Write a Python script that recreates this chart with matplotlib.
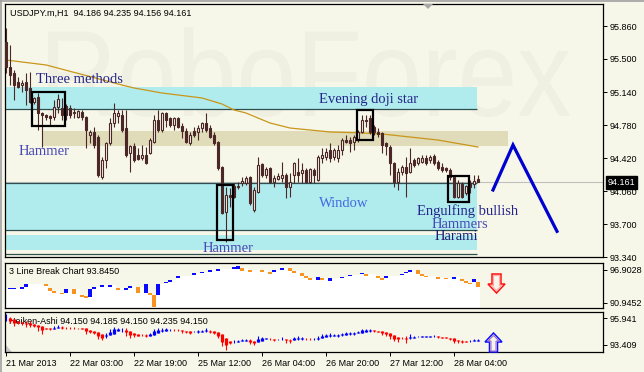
import matplotlib
matplotlib.use('Agg')
import matplotlib.pyplot as plt
import numpy as np
from matplotlib.patches import Rectangle, Polygon, PathPatch
from matplotlib.textpath import TextPath
from matplotlib.font_manager import FontProperties
from matplotlib.transforms import Affine2D
from matplotlib.lines import Line2D

# USDJPY H1 candles, one per hour from 21 Mar 2013
opens = [95.685, 95.413, 95.347, 95.249, 95.216, 95.249, 95.184, 95.031, 95.085, 94.911,
         94.889, 94.878, 94.867, 94.976, 94.965, 94.987, 94.965, 94.922, 94.867, 94.922,
         94.867, 94.671, 94.704, 94.649, 94.213, 94.398, 94.584, 94.802, 94.878, 94.889,
         94.747, 94.475, 94.551, 94.453, 94.420, 94.453, 94.475, 94.595, 94.835, 94.725,
         94.911, 94.856, 94.780, 94.856, 94.769, 94.715, 94.584, 94.715, 94.704, 94.747,
         94.802, 94.747, 94.671, 94.595, 94.322, 93.831, 94.016, 94.115, 94.104, 94.147,
         94.147, 94.213, 93.853, 94.049, 94.355, 94.235, 94.311, 94.158, 94.191, 94.202,
         94.235, 94.104, 94.235, 94.267, 94.256, 94.289, 94.158, 94.289, 94.180, 94.420,
         94.431, 94.507, 94.431, 94.420, 94.507, 94.616, 94.616, 94.595, 94.616, 94.704,
         94.835, 94.856, 94.758, 94.704, 94.693, 94.584, 94.540, 94.365, 94.158, 94.267,
         94.322, 94.267, 94.398, 94.365, 94.376, 94.420, 94.398, 94.442, 94.376, 94.322,
         94.311, 94.289, 94.213, 93.995, 94.136, 94.038, 94.147, 94.136, 94.186]
highs = [95.838, 95.653, 95.380, 95.304, 95.271, 95.347, 95.358, 95.090, 95.129, 94.920,
         94.900, 94.889, 95.053, 95.118, 95.075, 95.009, 94.998, 94.965, 94.944, 94.944,
         94.878, 94.725, 94.758, 94.671, 94.431, 94.595, 94.856, 95.020, 94.944, 94.944,
         94.944, 94.562, 94.584, 94.529, 94.562, 94.540, 94.638, 94.889, 94.944, 94.922,
         94.922, 94.867, 94.867, 94.867, 94.802, 94.747, 94.704, 94.758, 94.780, 94.813,
         94.911, 94.780, 94.704, 94.605, 94.333, 94.104, 94.093, 94.147, 94.158, 94.213,
         94.224, 94.224, 94.104, 94.431, 94.365, 94.322, 94.322, 94.235, 94.256, 94.376,
         94.256, 94.256, 94.376, 94.420, 94.365, 94.311, 94.311, 94.311, 94.453, 94.529,
         94.529, 94.584, 94.529, 94.562, 94.638, 94.671, 94.649, 94.671, 94.725, 94.889,
         94.889, 94.889, 94.780, 94.747, 94.704, 94.595, 94.562, 94.376, 94.311, 94.344,
         94.431, 94.529, 94.420, 94.431, 94.453, 94.453, 94.453, 94.464, 94.398, 94.365,
         94.322, 94.311, 94.235, 94.180, 94.158, 94.125, 94.180, 94.235, 94.235]
lows = [95.347, 95.216, 95.053, 95.184, 95.140, 94.998, 95.020, 95.009, 94.725, 94.540,
        94.835, 94.780, 94.835, 94.911, 94.835, 94.835, 94.856, 94.856, 94.856, 94.835,
        94.529, 94.584, 94.529, 94.213, 94.191, 94.311, 94.562, 94.758, 94.802, 94.704,
        94.431, 94.267, 94.376, 94.398, 94.398, 94.355, 94.465, 94.584, 94.704, 94.704,
        94.758, 94.758, 94.725, 94.747, 94.638, 94.584, 94.562, 94.649, 94.616, 94.704,
        94.704, 94.638, 94.562, 94.289, 93.809, 93.504, 93.885, 93.984, 94.082, 94.115,
        94.125, 93.907, 93.831, 94.038, 94.213, 94.202, 94.147, 94.104, 94.180, 94.158,
        93.984, 93.995, 94.147, 94.158, 94.147, 94.147, 94.147, 94.147, 94.169, 94.365,
        94.398, 94.376, 94.398, 94.376, 94.453, 94.584, 94.485, 94.507, 94.595, 94.693,
        94.758, 94.682, 94.671, 94.649, 94.475, 94.453, 94.235, 94.104, 94.071, 94.235,
        93.995, 94.256, 94.322, 94.344, 94.365, 94.344, 94.365, 94.344, 94.289, 94.267,
        94.267, 94.180, 93.984, 93.984, 93.984, 94.016, 94.038, 94.093, 94.156]
closes = [95.413, 95.325, 95.216, 95.195, 95.238, 95.162, 95.031, 95.075, 94.911, 94.889,
          94.867, 94.856, 94.976, 95.064, 94.889, 94.889, 94.889, 94.911, 94.933, 94.867,
          94.725, 94.704, 94.562, 94.235, 94.398, 94.584, 94.802, 94.911, 94.911, 94.725,
          94.453, 94.551, 94.398, 94.409, 94.453, 94.365, 94.616, 94.835, 94.725, 94.911,
          94.835, 94.780, 94.856, 94.758, 94.715, 94.595, 94.671, 94.671, 94.747, 94.802,
          94.725, 94.649, 94.584, 94.311, 93.820, 94.016, 93.995, 93.995, 94.115, 94.169,
          94.202, 93.929, 94.071, 94.344, 94.235, 94.300, 94.158, 94.202, 94.224, 94.235,
          94.104, 94.158, 94.365, 94.235, 94.289, 94.158, 94.300, 94.235, 94.431, 94.453,
          94.485, 94.420, 94.507, 94.507, 94.616, 94.595, 94.584, 94.649, 94.704, 94.835,
          94.824, 94.704, 94.704, 94.682, 94.562, 94.551, 94.365, 94.158, 94.267, 94.322,
          94.256, 94.365, 94.344, 94.420, 94.420, 94.365, 94.431, 94.365, 94.311, 94.289,
          94.289, 94.213, 93.995, 94.147, 93.995, 94.115, 94.104, 94.169, 94.161]

# moving average read at a few bars
ma_bars = [0, 10, 29, 32, 39, 49, 54, 57, 60, 66, 71, 81, 89, 94, 101, 108, 118]
ma_vals = [95.489, 95.435, 95.216, 95.184, 95.129, 95.075, 95.009, 94.944, 94.911,
           94.802, 94.747, 94.704, 94.693, 94.682, 94.649, 94.616, 94.540]

# support / resistance zones (bar from, bar to, low, high)
cyan_zones = [(-0.25, 117.75, 94.955, 95.195),
              (-0.25, 117.75, 93.635, 94.147),
              (-0.25, 117.75, 93.416, 93.580)]
tan_zone = (9.0, 125.5, 94.551, 94.715)
zone_lines = [94.955, 94.147, 93.635, 93.373]

# candle pattern boxes
box_left = [6.5, 52.75, 87.75, 110.5]
box_right = [14.75, 56.75, 91.75, 115.75]
box_low = [94.769, 93.525, 94.616, 93.940]
box_high = [95.140, 94.125, 94.944, 94.224]

labels = ['Three methods', 'Hammer', 'Evening doji star', 'Hammer', 'Window',
          'Engulfing bullish', 'Hammers', 'Harami']
label_bar = [7.5, 3.25, 78.25, 49.25, 78.25, 102.75, 106.5, 107.25]
label_price = [95.271, 94.496, 95.053, 93.438, 93.929, 93.842, 93.695, 93.569]
label_color = ['#24248a', '#4747b5', '#24248a', '#4747b5', '#4169e1',
               '#24248a', '#4747b5', '#1c1c70']

forecast_bars = [121.75, 126.75, 137.75]
forecast_prices = [94.071, 94.562, 93.620]

price_ticks = [95.860, 95.500, 95.140, 94.780, 94.420, 94.060, 93.700, 93.340]
time_ticks = [0, 16, 32, 48, 64, 80, 96, 112]
time_labels = ['21 Mar 2013', '22 Mar 03:00', '22 Mar 19:00', '25 Mar 12:00',
               '26 Mar 04:00', '26 Mar 20:00', '27 Mar 12:00', '28 Mar 04:00']

# 3 line break bricks (bar, top, bottom, 1 = up)
lb_bar = [1, 2, 4, 5, 10, 11, 12, 14, 15, 17, 19, 20, 21, 22, 24, 26, 28, 30, 31, 33,
          35, 36, 37, 38, 40, 41, 43, 47, 49, 51, 53, 57, 58, 59, 61, 64, 66, 67, 69, 71,
          72, 74, 75, 76, 78, 79, 81, 84, 86, 89, 90, 93, 94, 95, 99, 100, 101, 103, 104, 105,
          108, 110, 112, 114, 115, 116, 117, 118]
lb_hi = [93.65, 93.65, 93.83, 94.37, 94.37, 93.65, 93.11, 92.75, 93.47, 93.47, 92.39, 92.21,
         93.47, 93.83, 94.19, 94.19, 93.65, 93.65, 94.01, 93.83, 94.37, 92.75, 92.39, 94.37,
         94.73, 95.10, 95.82, 96.36, 96.54, 96.90, 97.08, 97.44, 97.62, 97.26, 96.90, 96.90,
         96.54, 96.90, 97.26, 97.26, 96.72, 96.36, 95.82, 95.46, 95.64, 95.46, 95.46, 95.64,
         96.00, 96.36, 96.18, 95.82, 95.46, 95.82, 96.18, 96.54, 96.90, 96.90, 96.18, 95.82,
         95.64, 95.46, 95.64, 95.28, 94.91, 94.55, 95.28, 94.73]
lb_lo = [93.47, 93.47, 93.47, 93.83, 94.01, 93.11, 92.75, 92.57, 92.75, 92.57, 92.03, 91.85,
         92.03, 93.47, 93.83, 93.83, 93.29, 93.29, 93.65, 92.75, 92.75, 92.39, 90.22, 92.39,
         94.55, 94.73, 95.46, 96.00, 96.36, 96.54, 96.72, 97.08, 97.08, 96.72, 96.54, 96.54,
         96.18, 96.54, 96.90, 96.72, 96.36, 95.82, 95.46, 95.10, 95.10, 95.10, 94.91, 95.46,
         95.82, 96.18, 95.82, 95.46, 95.10, 95.46, 96.00, 96.36, 96.54, 96.18, 95.82, 95.64,
         95.28, 95.28, 95.28, 94.91, 94.55, 94.37, 94.73, 93.83]
lb_up = [1, 1, 1, 1, 0, 0, 0, 0, 1, 0, 0, 0, 1, 1, 1, 1, 0, 1, 1, 0,
         1, 0, 0, 1, 1, 1, 1, 1, 1, 1, 1, 1, 1, 0, 0, 0, 0, 1, 1, 0,
         0, 0, 0, 0, 1, 0, 1, 1, 1, 1, 0, 0, 0, 1, 1, 1, 1, 0, 0, 0,
         0, 0, 1, 0, 0, 0, 1, 0]

W, H = 644, 372
BG = '#f7f7e9'
CANDLE = '#4b2727'
MT = dict(family='Liberation Sans', fontsize=6.5)


def fx(x):
    return x / W


def fy(y):
    return 1 - y / H


def frame(x0, y0, x1, y1):
    return [x0 / W, 1 - y1 / H, (x1 - x0) / W, (y1 - y0) / H]


fig = plt.figure(figsize=(W / 100, H / 100), dpi=100, facecolor=BG)
ax = fig.add_axes(frame(5, 4, 603, 257))
ax_lb = fig.add_axes(frame(5, 263, 603, 308))
ax_ha = fig.add_axes(frame(5, 312, 603, 352))

for a in (ax, ax_lb, ax_ha):
    a.set_facecolor(BG)
    a.set_xlim(-0.25, 149.25)
    for s in a.spines.values():
        s.set_color('black')
        s.set_linewidth(0.9)
    a.yaxis.tick_right()
    a.tick_params(axis='y', direction='out', length=3, width=0.7, pad=2,
                  labelsize=6.5, colors='black')
    a.tick_params(axis='x', bottom=False, labelbottom=False)

n = len(opens)
x = np.arange(n)
o = np.array(opens)
h = np.array(highs)
l = np.array(lows)
c = np.array(closes)

# ---- main panel ----
ax.set_ylim(93.34, 96.10)
ax.set_yticks(price_ticks)
ax.set_yticklabels(['%.3f' % p for p in price_ticks], family='Liberation Sans')

# watermark
tp = TextPath((0, 0), 'RoboForex', size=100, prop=FontProperties(family='Liberation Sans'))
ext = tp.get_extents()
tr = Affine2D().translate(-ext.x0, -ext.y0).scale(522 / ext.width, 90 / ext.height).translate(48, H - 117)
wm = PathPatch(tp, transform=tr, facecolor='#f0f0e2', edgecolor='none', zorder=0.2)
ax.add_artist(wm)

ax.axhline(closes[-1], color='#c0c0c0', lw=0.8, zorder=0.5)
for x0, x1, p0, p1 in cyan_zones:
    ax.add_patch(Rectangle((x0, p0), x1 - x0, p1 - p0, facecolor='#b0ecee', edgecolor='none', zorder=1))
x0, x1, p0, p1 = tan_zone
ax.add_patch(Rectangle((x0, p0), x1 - x0, p1 - p0, facecolor='#e0dbb9', edgecolor='none', zorder=1.1))
ax.hlines(zone_lines, -0.25, 117.75, color='#2f4f4f', lw=0.9, zorder=1.2)

ax.plot(ma_bars, ma_vals, color='#c8961a', lw=0.9, zorder=2)

up = c >= o
ax.vlines(x, l, h, color=CANDLE, lw=0.8, zorder=3)
ax.bar(x, np.maximum(np.abs(c - o), 0.003), bottom=np.minimum(o, c), width=0.55,
       color=[BG if u else CANDLE for u in up], edgecolor=CANDLE, linewidth=0.8, zorder=4)

for bl, br, pl, ph in zip(box_left, box_right, box_low, box_high):
    ax.add_patch(Rectangle((bl, pl), br - bl, ph - pl, fill=False, edgecolor='black', lw=1.6, zorder=5))

for txt, bx, py, col in zip(labels, label_bar, label_price, label_color):
    ax.text(bx, py, txt, color=col, family='Liberation Serif', fontsize=10.5,
            ha='left', va='center', zorder=6)

ax.plot(forecast_bars, forecast_prices, color='#0000d0', lw=2.3, zorder=6,
        solid_joinstyle='miter', clip_on=False)

# ---- 3 line break panel ----
lb_min, lb_max = 90.04, 98.16
ax_lb.set_ylim(lb_min, lb_max)
ax_lb.set_yticks([96.9028, 90.9452])
ax_lb.set_yticklabels(['96.9028', '90.9452'], family='Liberation Sans')
top = np.full(n, lb_hi[0])
cur = lb_hi[0]
k = 0
for i in range(n):
    while k < len(lb_bar) and lb_bar[k] == i:
        cur = lb_hi[k]
        k += 1
    top[i] = cur
xs = np.arange(n + 1) - 0.5
ax_lb.fill_between(xs, np.append(top, top[-1]), lb_min, step='post', color='white', lw=0, zorder=1)
ax_lb.bar(lb_bar, np.array(lb_hi) - np.array(lb_lo), bottom=lb_lo, width=0.95,
          color=['#0a0aff' if u else '#f7931e' for u in lb_up], lw=0, zorder=2)

# ---- Heiken-Ashi panel ----
ha_c = (o + h + l + c) / 4
ha_o = np.empty(n)
ha_o[0] = (o[0] + c[0]) / 2
for i in range(1, n):
    ha_o[i] = (ha_o[i - 1] + ha_c[i - 1]) / 2
ha_h = np.maximum(h, np.maximum(ha_o, ha_c))
ha_l = np.minimum(l, np.minimum(ha_o, ha_c))
ha_col = ['#0000ff' if cc >= oo else '#ff0000' for oo, cc in zip(ha_o, ha_c)]
ha_max, ha_min = 95.941, 93.409
ax_ha.set_ylim(ha_min, ha_max)
step = (ha_max - ha_min) / 40
ax_ha.set_yticks([ha_max - 6 * step, ha_min + 7 * step])
ax_ha.set_yticklabels(['%.3f' % ha_max, '%.3f' % ha_min], family='Liberation Sans')
ax_ha.vlines(x, ha_l, ha_h, color=ha_col, lw=0.8, zorder=3)
ax_ha.vlines(x, ha_o, ha_c, color=ha_col, lw=2.3, zorder=3)
ax_ha.set_xticks(time_ticks)
ax_ha.set_xticklabels(time_labels, ha='left', family='Liberation Sans', fontsize=6.5)
ax_ha.tick_params(axis='x', bottom=True, labelbottom=True, length=3, width=0.7, pad=2)
ax_ha.add_patch(Polygon([(fx(5), fy(344)), (fx(5), fy(352)), (fx(12), fy(352))], closed=True,
                        facecolor='#c8c8c8', edgecolor='none', transform=fig.transFigure, zorder=2))

# ---- texts and decorations ----
fig.text(fx(10), fy(13), 'USDJPY.m,H1  94.186 94.235 94.156 94.161', va='center', **MT)
fig.text(fx(9), fy(272), '3 Line Break Chart 93.8450', va='center', zorder=5, **MT)
ax_ha.text(fx(9), fy(321), 'Heiken-Ashi 94.150 94.185 94.150 94.235 94.150',
           transform=fig.transFigure, va='center', zorder=1, **MT)
fig.text(fx(608), fy(182.5), '%.3f' % closes[-1], color='white', va='center', zorder=10,
         bbox=dict(facecolor='black', edgecolor='black', boxstyle='square,pad=0.2'), **MT)

down = [(492, 274), (501, 274), (501, 284), (505, 284), (496.5, 293), (488, 284), (492, 284)]
down_in = [(493.5, 275.5), (499.5, 275.5), (499.5, 285.5), (501.5, 285.5), (496.5, 290.5),
           (491.5, 285.5), (493.5, 285.5)]
upar = [(493.5, 333), (502, 342), (497.5, 342), (497.5, 352), (489.5, 352), (489.5, 342), (485, 342)]
upar_in = [(493.5, 335.5), (499, 341), (496, 341), (496, 351), (491, 351), (491, 341), (488, 341)]
for pts, col, lw in ((down, '#ff1010', 1.1), (down_in, '#ffaaaa', 0.8),
                     (upar, '#1010ff', 1.1), (upar_in, '#a070d0', 0.8)):
    fig.patches.append(Polygon([(fx(px), fy(py)) for px, py in pts], closed=True, fill=False,
                               edgecolor=col, lw=lw, transform=fig.transFigure, zorder=10))

fig.patches.append(Polygon([(fx(423), fy(4)), (fx(433), fy(4)), (fx(428), fy(9))],
                           closed=True, facecolor='#a8a8a8', edgecolor='none',
                           transform=fig.transFigure, zorder=10))
fig.lines.append(Line2D([fx(0.5), fx(0.5)], [0, 1], color='#a0a0a0', lw=1.2, transform=fig.transFigure))
fig.lines.append(Line2D([0, 1], [fy(0.5), fy(0.5)], color='#a0a0a0', lw=1.2, transform=fig.transFigure))

fig.savefig('out.png', dpi=100, facecolor=BG)
